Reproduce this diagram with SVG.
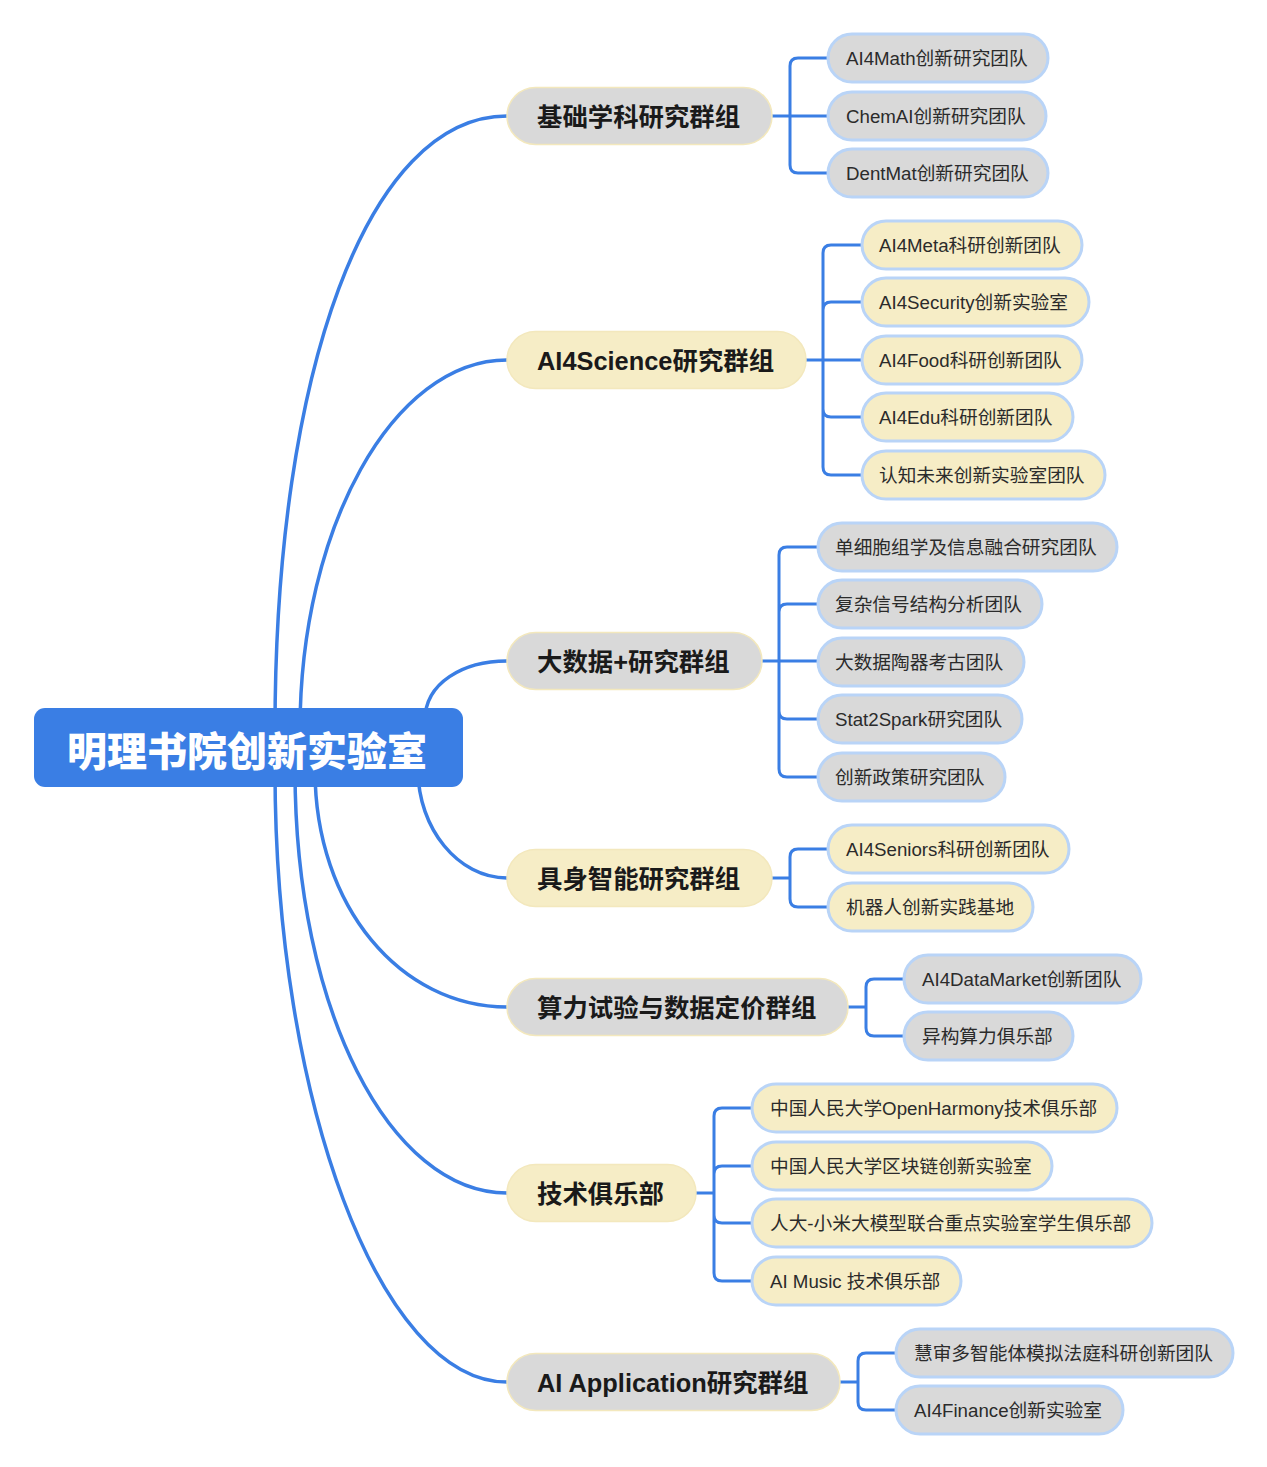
<svg xmlns="http://www.w3.org/2000/svg" width="1267" height="1467" viewBox="0 0 1267 1467">
<style>
.bg{fill:#ffffff}
.ln{fill:none;stroke:#3a7ee4;stroke-width:3.5;stroke-linecap:round}
.br{fill:none;stroke:#3a7ee4;stroke-width:3;stroke-linejoin:round}
.root{fill:#3a7ee4}
.rt{font-family:"Liberation Sans","Noto Sans CJK SC",sans-serif;font-size:40px;font-weight:900;fill:#ffffff}
.cg{fill:#d9d9d9;stroke:#f3e8bd;stroke-width:1.5}
.cy{fill:#f6edc6;stroke:#f3e8bd;stroke-width:1.5}
.ct{font-family:"Liberation Sans","Noto Sans CJK SC",sans-serif;font-size:25.4px;font-weight:bold;fill:#1a1a1a}
.lg{fill:#d9d9d9;stroke:#b9d4f7;stroke-width:3}
.ly{fill:#f6edc6;stroke:#b9d4f7;stroke-width:3}
.lt{font-family:"Liberation Sans","Noto Sans CJK SC",sans-serif;font-size:18.7px;fill:#2b2b2b}
</style>
<rect class="bg" x="0" y="0" width="1267" height="1467"/>
<g id="connectors">
<path class="ln" d="M275,730 C275,371 368,116 507,116"/>
<path class="ln" d="M300,730 C300,528 393,360 507,360"/>
<path class="ln" d="M425,720 C425,683 463,661 507,661"/>
<path class="ln" d="M418,770 C418,828 458,878 507,878"/>
<path class="ln" d="M315,770 C315,907 401,1007 507,1007"/>
<path class="ln" d="M295,770 C295,1010 390,1193 507,1193"/>
<path class="ln" d="M275,770 C275,1100 380,1382 507,1382"/>
<path class="br" d="M772,116 H828 M828,58 H798 Q790,58 790,66 V165 Q790,173 798,173 H828"/>
<path class="br" d="M806,360 H862 M862,245 H831 Q823,245 823,253 V467 Q823,475 831,475 H862 M823,310 Q823,302 831,302 H862 M823,409 Q823,417 831,417 H862"/>
<path class="br" d="M762,661 H818 M818,547 H787 Q779,547 779,555 V769 Q779,777 787,777 H818 M779,612 Q779,604 787,604 H818 M779,711 Q779,719 787,719 H818"/>
<path class="br" d="M772,878 H790 M828,849 H798 Q790,849 790,857 V899 Q790,907 798,907 H828"/>
<path class="br" d="M848,1007 H866 M904,979 H874 Q866,979 866,987 V1028 Q866,1036 874,1036 H904"/>
<path class="br" d="M696,1193 H714 M752,1108 H722 Q714,1108 714,1116 V1273 Q714,1281 722,1281 H752 M714,1174 Q714,1166 722,1166 H752 M714,1215 Q714,1223 722,1223 H752"/>
<path class="br" d="M840,1382 H858 M896,1353 H866 Q858,1353 858,1361 V1402 Q858,1410 866,1410 H896"/>
</g>
<g id="root">
<rect class="root" x="34" y="708" width="429" height="79" rx="11"/>
<text class="rt" x="247" y="766" text-anchor="middle">明理书院创新实验室</text>
</g>
<g id="cat-jichu"><rect class="cg" x="507" y="87.5" width="265" height="57" rx="28.5"/><text class="ct" x="537" y="125.5">基础学科研究群组</text></g>
<g id="cat-ai4science"><rect class="cy" x="507" y="331.5" width="299" height="57" rx="28.5"/><text class="ct" x="537" y="369.5">AI4Science研究群组</text></g>
<g id="cat-bigdata"><rect class="cg" x="507" y="632.5" width="255" height="57" rx="28.5"/><text class="ct" x="537" y="670.5">大数据+研究群组</text></g>
<g id="cat-embodied"><rect class="cy" x="507" y="849.5" width="265" height="57" rx="28.5"/><text class="ct" x="537" y="887.5">具身智能研究群组</text></g>
<g id="cat-compute"><rect class="cg" x="507" y="978.5" width="341" height="57" rx="28.5"/><text class="ct" x="537" y="1016.5">算力试验与数据定价群组</text></g>
<g id="cat-club"><rect class="cy" x="507" y="1164.5" width="189" height="57" rx="28.5"/><text class="ct" x="537" y="1202.5">技术俱乐部</text></g>
<g id="cat-aiapp"><rect class="cg" x="507" y="1353.5" width="333" height="57" rx="28.5"/><text class="ct" x="537" y="1391.5">AI Application研究群组</text></g>
<g id="leaf-ai4math"><rect class="lg" x="828" y="34" width="220" height="48" rx="24"/><text class="lt" x="846" y="64.5">AI4Math创新研究团队</text></g>
<g id="leaf-chemai"><rect class="lg" x="828" y="92" width="218" height="48" rx="24"/><text class="lt" x="846" y="122.5">ChemAI创新研究团队</text></g>
<g id="leaf-dentmat"><rect class="lg" x="828" y="149" width="220" height="48" rx="24"/><text class="lt" x="846" y="179.5">DentMat创新研究团队</text></g>
<g id="leaf-ai4meta"><rect class="ly" x="862" y="221" width="220" height="48" rx="24"/><text class="lt" x="879" y="251.5">AI4Meta科研创新团队</text></g>
<g id="leaf-ai4security"><rect class="ly" x="862" y="278" width="227" height="48" rx="24"/><text class="lt" x="879" y="308.5">AI4Security创新实验室</text></g>
<g id="leaf-ai4food"><rect class="ly" x="862" y="336" width="220" height="48" rx="24"/><text class="lt" x="879" y="366.5">AI4Food科研创新团队</text></g>
<g id="leaf-ai4edu"><rect class="ly" x="862" y="393" width="211" height="48" rx="24"/><text class="lt" x="879" y="423.5">AI4Edu科研创新团队</text></g>
<g id="leaf-renzhi"><rect class="ly" x="862" y="451" width="243" height="48" rx="24"/><text class="lt" x="879" y="481.5">认知未来创新实验室团队</text></g>
<g id="leaf-danxibao"><rect class="lg" x="818" y="523" width="299" height="48" rx="24"/><text class="lt" x="835" y="553.5">单细胞组学及信息融合研究团队</text></g>
<g id="leaf-fuza"><rect class="lg" x="818" y="580" width="224" height="48" rx="24"/><text class="lt" x="835" y="610.5">复杂信号结构分析团队</text></g>
<g id="leaf-taoqi"><rect class="lg" x="818" y="638" width="206" height="48" rx="24"/><text class="lt" x="835" y="668.5">大数据陶器考古团队</text></g>
<g id="leaf-stat2spark"><rect class="lg" x="818" y="695" width="204" height="48" rx="24"/><text class="lt" x="835" y="725.5">Stat2Spark研究团队</text></g>
<g id="leaf-zhengce"><rect class="lg" x="818" y="753" width="187" height="48" rx="24"/><text class="lt" x="835" y="783.5">创新政策研究团队</text></g>
<g id="leaf-ai4seniors"><rect class="ly" x="828" y="825" width="241" height="48" rx="24"/><text class="lt" x="846" y="855.5">AI4Seniors科研创新团队</text></g>
<g id="leaf-robot"><rect class="ly" x="828" y="883" width="205" height="48" rx="24"/><text class="lt" x="846" y="913.5">机器人创新实践基地</text></g>
<g id="leaf-datamarket"><rect class="lg" x="904" y="955" width="237" height="48" rx="24"/><text class="lt" x="922" y="985.5">AI4DataMarket创新团队</text></g>
<g id="leaf-yigou"><rect class="lg" x="904" y="1012" width="169" height="48" rx="24"/><text class="lt" x="922" y="1042.5">异构算力俱乐部</text></g>
<g id="leaf-openharmony"><rect class="ly" x="752" y="1084" width="365" height="48" rx="24"/><text class="lt" x="770" y="1114.5">中国人民大学OpenHarmony技术俱乐部</text></g>
<g id="leaf-blockchain"><rect class="ly" x="752" y="1142" width="300" height="48" rx="24"/><text class="lt" x="770" y="1172.5">中国人民大学区块链创新实验室</text></g>
<g id="leaf-xiaomi"><rect class="ly" x="752" y="1199" width="400" height="48" rx="24"/><text class="lt" x="770" y="1229.5">人大-小米大模型联合重点实验室学生俱乐部</text></g>
<g id="leaf-aimusic"><rect class="ly" x="752" y="1257" width="209" height="48" rx="24"/><text class="lt" x="770" y="1287.5">AI Music 技术俱乐部</text></g>
<g id="leaf-huishen"><rect class="lg" x="896" y="1329" width="337" height="48" rx="24"/><text class="lt" x="914" y="1359.5">慧审多智能体模拟法庭科研创新团队</text></g>
<g id="leaf-ai4finance"><rect class="lg" x="896" y="1386" width="227" height="48" rx="24"/><text class="lt" x="914" y="1416.5">AI4Finance创新实验室</text></g>
</svg>
